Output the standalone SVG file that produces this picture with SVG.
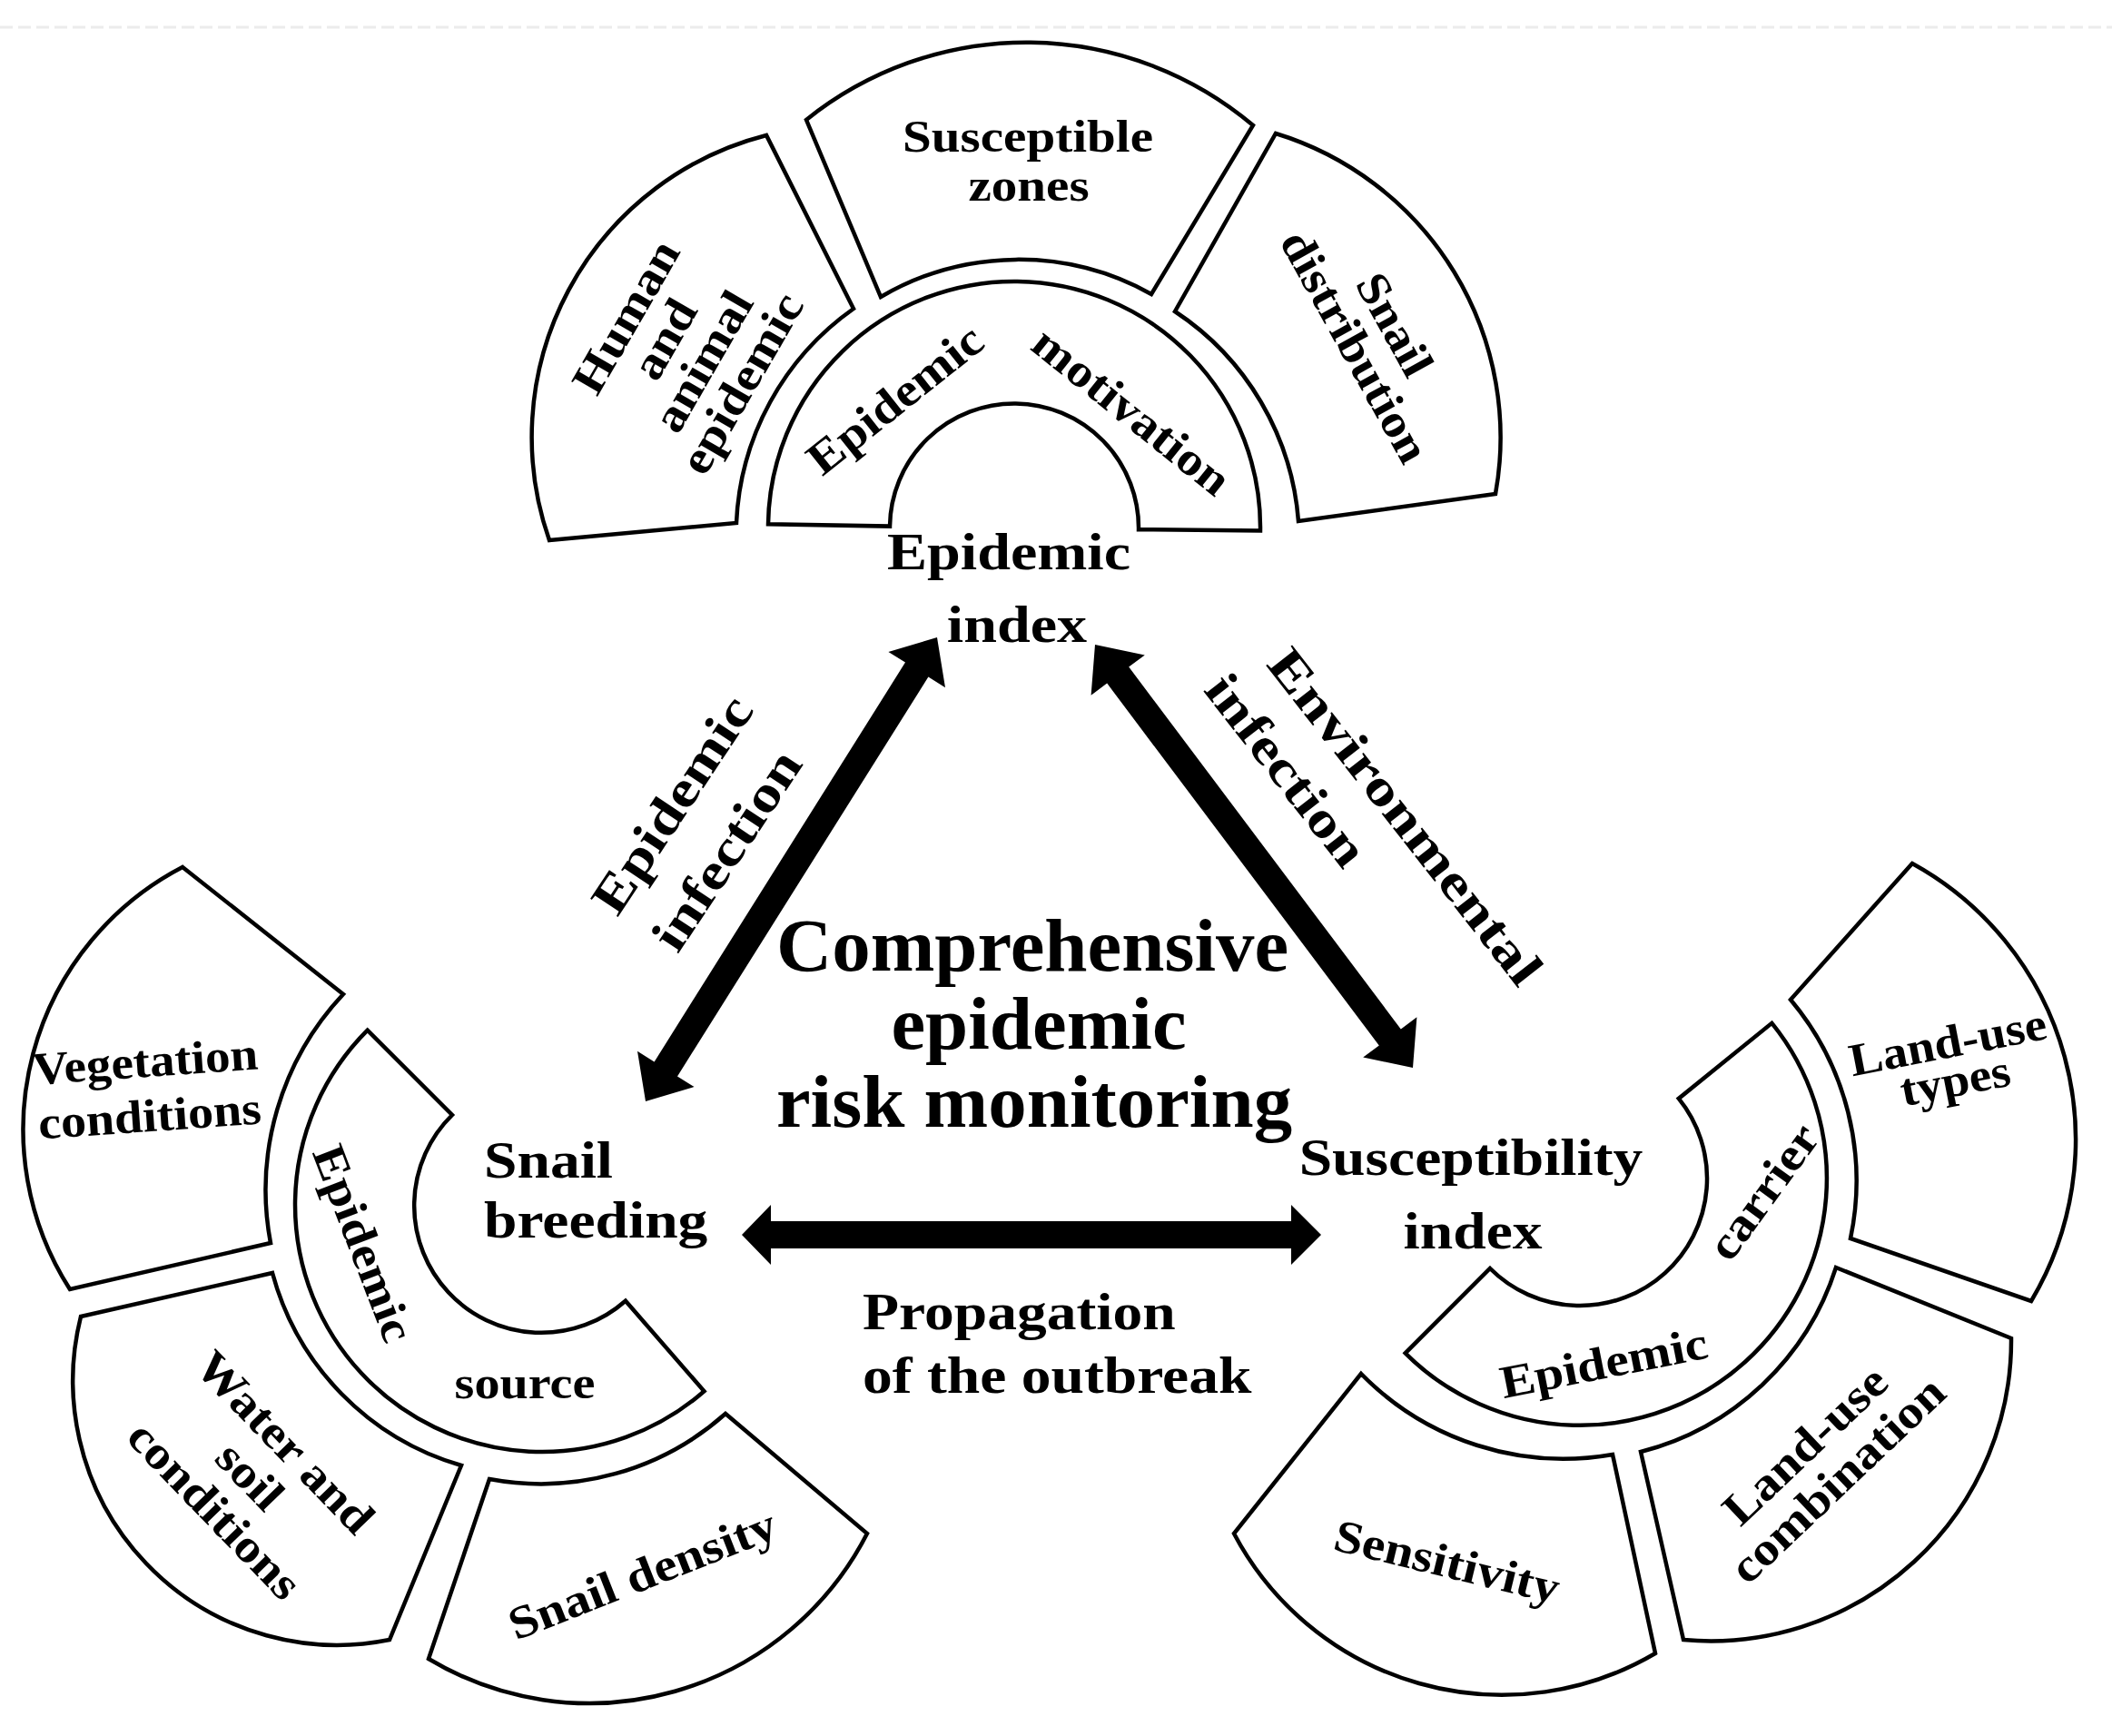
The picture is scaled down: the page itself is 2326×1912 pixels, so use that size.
<svg xmlns="http://www.w3.org/2000/svg" width="2326" height="1912" viewBox="0 0 2326 1912">
<style>
.shape{fill:#fff;stroke:#000;stroke-width:4.5;stroke-linejoin:miter}
.t{font-family:"Liberation Serif","Times New Roman",serif;font-weight:bold;fill:#000}
.s{font-size:51px}
.m{font-size:57px}
.a{font-size:56px}
.big{font-size:82px}
.c{text-anchor:middle}
.arrow{fill:#000;stroke:none}
</style>
<rect x="0" y="0" width="2326" height="1912" fill="#fff"/>
<line x1="0" y1="30" x2="2326" y2="30" stroke="#ececec" stroke-width="3" stroke-dasharray="14 6"/>

<g id="epidemic-index">
  <path class="shape" d="M 846 577.3 A 271 271 0 0 1 1388 584.4 L 1254 583.2 A 137 137 0 0 0 980 579.6 Z"/>
  <path id="human-animal" class="shape" d="M 605 595 L 811 576 A 305 305 0 0 1 940 340 L 844 149 A 343 343 0 0 0 605 595 Z"/>
  <path id="susceptible-zones" class="shape" d="M 970 327 A 300 300 0 0 1 1268 324 L 1380 138 A 387 387 0 0 0 888 132 Z"/>
  <path id="snail-distribution" class="shape" d="M 1294 343 L 1405 147 A 350 350 0 0 1 1647 544 L 1430 574 A 305 305 0 0 0 1294 343 Z"/>
  <text class="t s c" transform="translate(1132,167) scale(1.12,1)">Susceptible</text>
  <text class="t s c" transform="translate(1133,221) scale(1.12,1)">zones</text>
  <g transform="translate(752,385) rotate(-60) scale(1.13,1)">
    <text class="t s c" x="0" y="-55.5">Human</text>
    <text class="t s c" x="0" y="-6.5">and</text>
    <text class="t s c" x="0" y="42.5">animal</text>
    <text class="t s c" x="0" y="91.5">epidemic</text>
  </g>
  <g transform="translate(1515,369) rotate(61) scale(1.1,1)">
    <text class="t s c" x="0" y="-7">Snail</text>
    <text class="t s c" x="0" y="43">distribution</text>
  </g>
  <text class="t s c" transform="translate(985,439) rotate(-38.5) scale(1.12,1)" y="18">Epidemic</text>
  <text class="t s c" transform="translate(1247,452) rotate(38.7) scale(1.12,1)" y="18">motivation</text>
  <text class="t m c" transform="translate(1111,627) scale(1.16,1)">Epidemic</text>
  <text class="t m c" transform="translate(1120,707) scale(1.16,1)">index</text>
</g>

<g id="snail-breeding">
  <path class="shape" d="M 404.7 1134.7 A 272 272 0 0 0 775.5 1532.3 L 688.9 1432.7 A 140 140 0 0 1 498 1228 Z"/>
  <path id="vegetation" class="shape" d="M 201 955 L 378 1095 A 315 315 0 0 0 298 1369 L 77 1420 A 326 326 0 0 1 201 955 Z"/>
  <path id="water-soil" class="shape" d="M 89 1450 L 300 1402 A 303 303 0 0 0 508 1614 L 429 1806 A 291 291 0 0 1 89 1450 Z"/>
  <path id="snail-density" class="shape" d="M 539 1629 A 306 306 0 0 0 799 1557 L 955 1689 A 344 344 0 0 1 472 1827 Z"/>
  <text class="t m" transform="translate(533,1297) scale(1.15,1)">Snail</text>
  <text class="t m" transform="translate(533,1363) scale(1.15,1)">breeding</text>
  <text class="t s c" transform="translate(401,1369) rotate(69) scale(1.1,1)" y="18">Epidemic</text>
  <text class="t s c" transform="translate(578,1540) scale(1.1,1)">source</text>
  <text class="t s c" transform="translate(161,1186) rotate(-4) scale(1.08,1)">Vegetation</text>
  <text class="t s c" transform="translate(166,1246) rotate(-4) scale(1.1,1)">conditions</text>
  <g transform="translate(276,1625) rotate(46) scale(1.12,1)">
    <text class="t s c" x="0" y="-36">Water and</text>
    <text class="t s c" x="0" y="18">soil</text>
    <text class="t s c" x="0" y="72">conditions</text>
  </g>
  <text class="t s c" transform="translate(707,1733) rotate(-21.5) scale(1.12,1)" y="18">Snail density</text>
</g>

<g id="susceptibility-index">
  <path class="shape" d="M 1951.4 1126.8 A 272 272 0 0 1 1547.7 1490.3 L 1641 1397 A 140 140 0 0 0 1848.8 1209.9 Z"/>
  <path id="land-use-types" class="shape" d="M 2106 951 L 1972 1101 A 310 310 0 0 1 2038 1364 L 2237 1433 A 347 347 0 0 0 2106 951 Z"/>
  <path id="land-use-combination" class="shape" d="M 2022 1396 L 2215 1474 A 331 331 0 0 1 1854 1806 L 1807 1599 A 305 305 0 0 0 2022 1396 Z"/>
  <path id="sensitivity" class="shape" d="M 1499 1513 A 312 312 0 0 0 1776 1602 L 1823 1821 A 334 334 0 0 1 1359 1689 Z"/>
  <text class="t m c" transform="translate(1620,1294) scale(1.15,1)">Susceptibility</text>
  <text class="t m c" transform="translate(1622,1375) scale(1.15,1)">index</text>
  <text class="t s c" transform="translate(1941,1312) rotate(-54) scale(1.12,1)" y="18">carrier</text>
  <text class="t s c" transform="translate(1766,1500) rotate(-11.2) scale(1.12,1)" y="18">Epidemic</text>
  <g transform="translate(2149,1168) rotate(-11) scale(1.08,1)">
    <text class="t s c" x="0" y="-3.5">Land-use</text>
    <text class="t s c" x="0" y="39.5">types</text>
  </g>
  <g transform="translate(2005,1610) rotate(-43.5) scale(1.12,1)">
    <text class="t s c" x="0" y="-8">Land-use</text>
    <text class="t s c" x="0" y="44">combination</text>
  </g>
  <text class="t s c" transform="translate(1594,1719) rotate(13.7) scale(1.12,1)" y="18">Sensitivity</text>
</g>

<g id="center-title">
  <text class="t big c" transform="translate(1137,1069) scale(1.035,1)">Comprehensive</text>
  <text class="t big c" transform="translate(1144,1155) scale(1.035,1)">epidemic</text>
  <text class="t big c" transform="translate(1139,1241) scale(1.035,1)">risk monitoring</text>
</g>

<g id="connectors">
  <polygon class="arrow" points="711,1213 764.6,1197.1 746,1185.4 1022.4,745.6 1041,757.3 1032,702 978.4,717.9 997,729.6 720.6,1169.4 702,1157.7"/>
  <polygon class="arrow" points="1206,710 1201.6,765.8 1219.2,752.6 1518.8,1151.4 1501.2,1164.6 1556,1176 1560.4,1120.2 1542.8,1133.4 1243.2,734.6 1260.8,721.4"/>
  <polygon class="arrow" points="817,1360 849,1327 849,1345 1422,1345 1422,1327 1455,1360 1422,1393 1422,1375 849,1375 849,1393"/>
  <text class="t a c" transform="translate(740,886) rotate(-56.5) scale(1.21,1)" y="19">Epidemic</text>
  <text class="t a c" transform="translate(800,936) rotate(-56.5) scale(1.21,1)" y="19">infection</text>
  <text class="t a c" transform="translate(1548,899) rotate(52) scale(1.26,1)" y="19">Environmental</text>
  <text class="t a c" transform="translate(1417,848) rotate(52) scale(1.21,1)" y="19">infection</text>
  <text class="t m" transform="translate(950,1464) scale(1.15,1)">Propagation</text>
  <text class="t m" transform="translate(950,1534) scale(1.15,1)">of the outbreak</text>
</g>
</svg>
